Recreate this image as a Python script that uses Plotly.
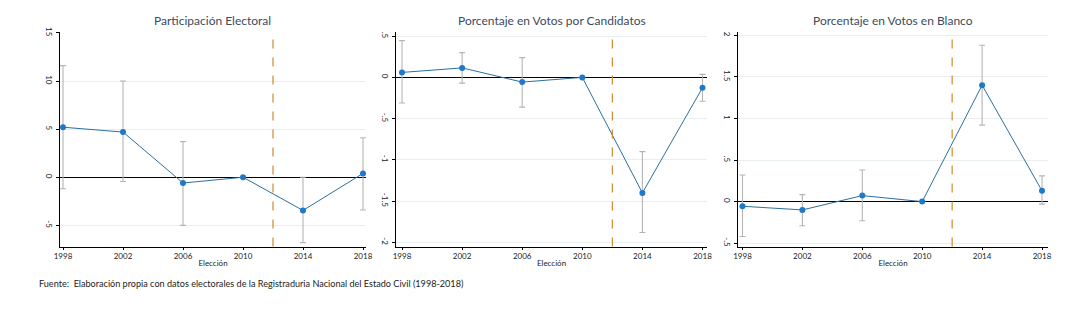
import plotly.graph_objects as go

years = [1998, 2002, 2006, 2010, 2014, 2018]

# Participación Electoral
part_val = [5.2, 4.7, -0.6, 0.0, -3.45, 0.4]
part_hi = [11.6, 10.0, 3.7, 0.0, 0.0, 4.1]
part_lo = [-1.2, -0.45, -5.0, 0.0, -6.8, -3.4]

# Porcentaje en Votos por Candidatos
cand_val = [0.06, 0.115, -0.057, 0.0, -1.40, -0.125]
cand_hi = [0.445, 0.30, 0.24, 0.0, -0.90, 0.036]
cand_lo = [-0.31, -0.07, -0.36, 0.0, -1.88, -0.29]

# Porcentaje en Votos en Blanco
blan_val = [-0.056, -0.10, 0.072, 0.0, 1.40, 0.13]
blan_hi = [0.32, 0.084, 0.38, 0.0, 1.88, 0.31]
blan_lo = [-0.42, -0.29, -0.23, 0.0, 0.92, -0.03]

titles = ["Participación Electoral", "Porcentaje en Votos por Candidatos",
          "Porcentaje en Votos en Blanco"]
ytick_vals = [[-5, 0, 5, 10, 15], [-2, -1.5, -1, -0.5, 0, 0.5], [-0.5, 0, 0.5, 1, 1.5, 2]]
ytick_text = [["-5", "0", "5", "10", "15"], ["-2", "-1.5", "-1", "-.5", "0", ".5"],
              ["-.5", "0", ".5", "1", "1.5", "2"]]
treat_year = 2012
footer = "Fuente:  Elaboración propia con datos electorales de la Registraduria Nacional del Estado Civil (1998-2018)"

W, H = 1079, 317
OFF = 8  # page body margin
xdom_px = [(60, 366), (396, 707), (738, 1048)]
xranges = [[1997.8, 2018.2], [1997.6, 2018.3], [1997.7, 2018.4]]
yranges = [[-7.2, 15.1], [-2.05, 0.55], [-0.54, 2.04]]
ytop_px, ybot_px = 32 - OFF, 246.5 - OFF
ydom = [1 - ybot_px / H, 1 - ytop_px / H]

FONT = "Lato"
series = [(part_val, part_hi, part_lo), (cand_val, cand_hi, cand_lo), (blan_val, blan_hi, blan_lo)]

fig = go.Figure()
shapes = []
annotations = []
for i, (vals, hi, lo) in enumerate(series):
    sfx = "" if i == 0 else str(i + 1)
    xa, ya = "x" + sfx, "y" + sfx
    # error bars
    fig.add_trace(go.Scatter(
        x=years, y=vals, mode="markers", xaxis=xa, yaxis=ya,
        marker=dict(size=1, color="rgba(0,0,0,0)"),
        error_y=dict(type="data", symmetric=False,
                     array=[h - v for h, v in zip(hi, vals)],
                     arrayminus=[v - l for v, l in zip(vals, lo)],
                     color="#b5b5b5", thickness=1.1, width=3),
        showlegend=False, hoverinfo="skip"))
    # line + markers
    fig.add_trace(go.Scatter(
        x=years, y=vals, mode="lines+markers", xaxis=xa, yaxis=ya,
        line=dict(color="#2c6f9f", width=1),
        marker=dict(size=6, color="#1f78c8"),
        showlegend=False))
    d = (xdom_px[i][0] - OFF, xdom_px[i][1] - OFF)
    layout_x = dict(domain=[d[0] / W, d[1] / W], range=xranges[i],
                    tickvals=years, ticktext=[str(y) for y in years],
                    showline=True, linecolor="black", linewidth=1.3,
                    ticks="outside", ticklen=2, tickcolor="black",
                    showgrid=False, zeroline=False, automargin=False,
                    tickfont=dict(family=FONT, size=8, color="#222"),
                    title=dict(text="Elección", font=dict(family=FONT, size=8, color="#222"),
                               standoff=0),
                    anchor=ya)
    layout_y = dict(domain=ydom, range=yranges[i],
                    tickvals=ytick_vals[i], ticktext=ytick_text[i],
                    tickangle=90, automargin=False,
                    showline=True, linecolor="black", linewidth=1.3,
                    ticks="outside", ticklen=3, tickcolor="black",
                    showgrid=True, gridcolor="#e9eef1", gridwidth=1,
                    zeroline=True, zerolinecolor="black", zerolinewidth=1.3,
                    tickfont=dict(family=FONT, size=8, color="#222"),
                    anchor=xa)
    fig.update_layout(**{"xaxis" + sfx: layout_x, "yaxis" + sfx: layout_y})
    shapes.append(dict(type="line", xref=xa, yref=ya + " domain",
                       x0=treat_year, x1=treat_year, y0=0, y1=1,
                       line=dict(color="#d08a2e", width=1.2, dash="dash")))
    annotations.append(dict(text=titles[i], xref="paper", yref="paper",
                            x=(d[0] + d[1]) / 2 / W, y=1 - (21 - OFF) / H,
                            showarrow=False, xanchor="center", yanchor="middle",
                            font=dict(family=FONT, size=12, color="#3d4a5c")))

annotations.append(dict(text=footer, xref="paper", yref="paper",
                        x=(37 - OFF) / W, y=1 - (283 - OFF) / H, showarrow=False,
                        xanchor="left", yanchor="middle",
                        font=dict(family=FONT, size=9.1, color="#222")))

fig.update_layout(width=W, height=H, margin=dict(l=0, r=0, t=0, b=0, autoexpand=False),
                  paper_bgcolor="white", plot_bgcolor="white",
                  shapes=shapes, annotations=annotations)
fig.write_html("out.html")
